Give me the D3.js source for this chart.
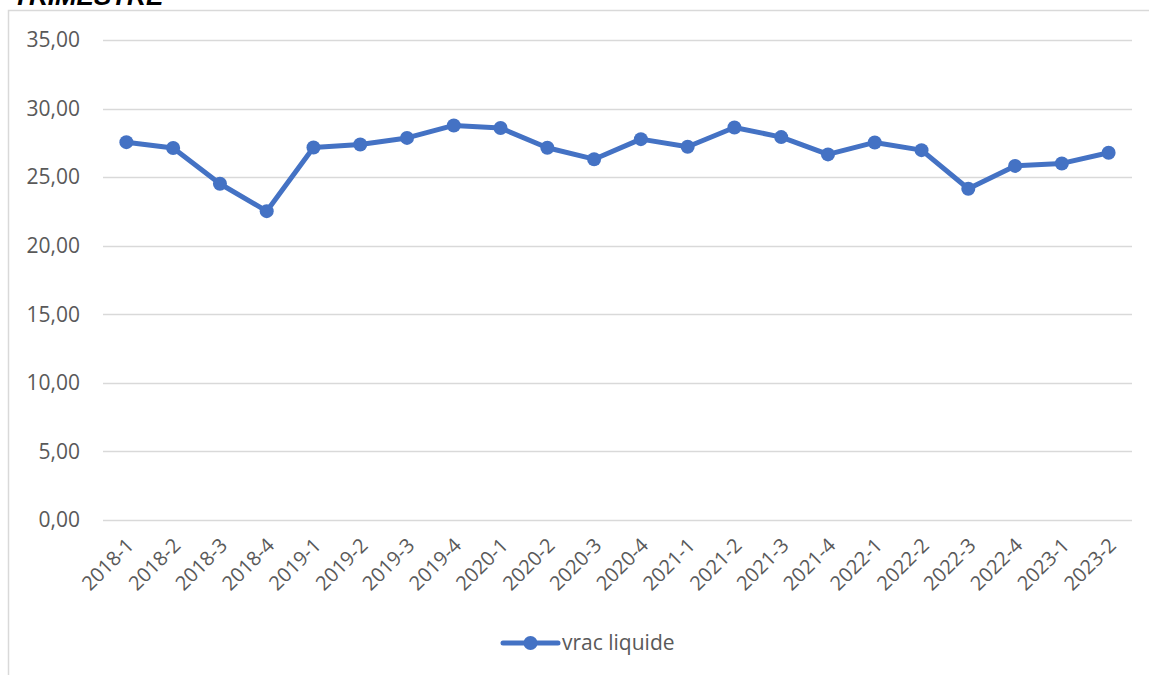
<!DOCTYPE html>
<html>
<head>
<meta charset="utf-8">
<script src="https://cdn.jsdelivr.net/npm/d3@7"></script>
<style>
  body { margin: 0; background: #fff; }
  svg { display: block; font-family: "Open Sans", sans-serif; }
</style>
</head>
<body>
<div id="chart"></div>
<script>
// Data
const quarters = [
  "2018-1", "2018-2", "2018-3", "2018-4",
  "2019-1", "2019-2", "2019-3", "2019-4",
  "2020-1", "2020-2", "2020-3", "2020-4",
  "2021-1", "2021-2", "2021-3", "2021-4",
  "2022-1", "2022-2", "2022-3", "2022-4",
  "2023-1", "2023-2"
];
const vracLiquide = [
  27.55, 27.12, 24.52, 22.52,
  27.16, 27.38, 27.86, 28.77,
  28.58, 27.14, 26.31, 27.77,
  27.22, 28.62, 27.92, 26.66,
  27.53, 26.97, 24.15, 25.82,
  26.0, 26.78
];
const yTicks = [0, 5, 10, 15, 20, 25, 30, 35];
const seriesName = "vrac liquide";
const chartTitle = "TRIMESTRE";

const W = 1149;
const H = 675;
const COLOR = "#4472c4";
const TEXT = "#595959";
const GRID = "#d9d9d9";

const svg = d3.select("#chart")
  .append("svg")
  .attr("width", W)
  .attr("height", H);

// chart frame (only left and top edges are visible)
svg.append("path")
  .attr("d", "M8.5," + H + "V10.5H" + W)
  .attr("fill", "none")
  .attr("stroke", GRID)
  .attr("stroke-width", 1.5);

// title, cut off at the top like in the source
svg.append("text")
  .attr("x", 13)
  .attr("y", 5)
  .attr("font-family", "Liberation Sans, Arial, sans-serif")
  .attr("font-weight", "bold")
  .attr("font-style", "italic")
  .attr("font-size", 26)
  .attr("fill", "#000")
  .text(chartTitle);

const margin = { left: 103, right: 17, top: 40, bottom: 155 };

const x = d3.scaleBand()
  .domain(quarters)
  .range([margin.left, W - margin.right]);

const y = d3.scaleLinear()
  .domain([0, 35])
  .range([H - margin.bottom, margin.top]);

// gridlines
svg.append("g")
  .selectAll("line")
  .data(yTicks)
  .enter()
  .append("line")
  .attr("x1", margin.left)
  .attr("x2", W - margin.right)
  .attr("y1", (d) => Math.round(y(d)) + 0.5)
  .attr("y2", (d) => Math.round(y(d)) + 0.5)
  .attr("stroke", GRID)
  .attr("stroke-width", 1.5);

// y axis labels
const fmt = (d) => d.toFixed(2).replace(".", ",");
const yAxis = d3.axisLeft(y).tickValues(yTicks).tickFormat(fmt).tickSize(0).tickPadding(0);
svg.append("g")
  .attr("transform", "translate(80,0)")
  .call(yAxis)
  .call((g) => g.select(".domain").remove())
  .selectAll("text")
  .attr("fill", TEXT)
  .attr("font-size", 21)
  .attr("font-family", "Open Sans, sans-serif");

// x axis labels, rotated
const xAxis = d3.axisBottom(x).tickSize(0).tickPadding(0);
svg.append("g")
  .attr("transform", "translate(0," + (H - margin.bottom) + ")")
  .call(xAxis)
  .call((g) => g.select(".domain").remove())
  .selectAll("text")
  .attr("fill", TEXT)
  .attr("font-size", 20)
  .attr("font-family", "Open Sans, sans-serif")
  .attr("text-anchor", "end")
  .attr("dy", null)
  .attr("y", null)
  .attr("transform", "translate(5,23) rotate(-45)")
  .attr("dominant-baseline", "middle");

// line
const line = d3.line()
  .x((d, i) => x(quarters[i]) + x.bandwidth() / 2)
  .y((d) => y(d));

svg.append("path")
  .datum(vracLiquide)
  .attr("fill", "none")
  .attr("stroke", COLOR)
  .attr("stroke-width", 5)
  .attr("stroke-linejoin", "round")
  .attr("stroke-linecap", "round")
  .attr("d", line);

svg.append("g")
  .selectAll("circle")
  .data(vracLiquide)
  .enter()
  .append("circle")
  .attr("cx", (d, i) => x(quarters[i]) + x.bandwidth() / 2)
  .attr("cy", (d) => y(d))
  .attr("r", 7)
  .attr("fill", COLOR);

// legend
const legend = svg.append("g").attr("transform", "translate(503,643)");
legend.append("line")
  .attr("x1", 0)
  .attr("x2", 55)
  .attr("stroke", COLOR)
  .attr("stroke-width", 5)
  .attr("stroke-linecap", "round");
legend.append("circle")
  .attr("cx", 27.5)
  .attr("r", 7)
  .attr("fill", COLOR);
legend.append("text")
  .attr("x", 59)
  .attr("dy", "0.35em")
  .attr("fill", TEXT)
  .attr("font-size", 21)
  .text(seriesName);
</script>
</body>
</html>
